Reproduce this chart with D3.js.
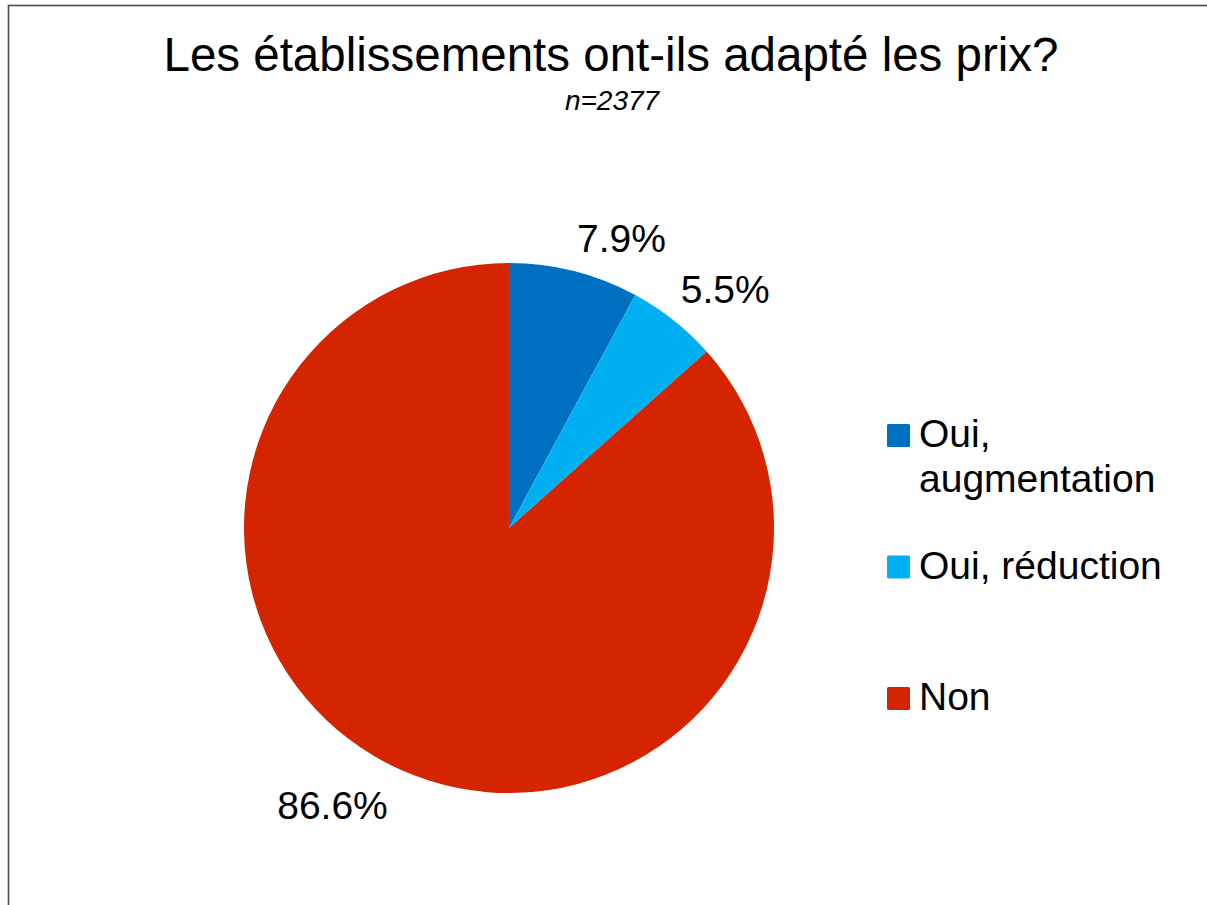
<!DOCTYPE html>
<html>
<head>
<meta charset="utf-8">
<script src="https://cdn.jsdelivr.net/npm/d3@7"></script>
<style>
  html, body { margin: 0; padding: 0; background: #fff; }
  svg { display: block; font-family: "Liberation Sans", Arial, sans-serif; }
</style>
</head>
<body>
<svg id="chart" width="1207" height="905"></svg>
<script>
// chart data
var categories = ['Oui, augmentation', 'Oui, réduction', 'Non'];
var legendLines = [['Oui,', 'augmentation'], ['Oui, réduction'], ['Non']];
var values = [7.9, 5.5, 86.6];
var colors = ['#0070C0', '#00B0F0', '#D52400'];
var title = 'Les établissements ont-ils adapté les prix?';
var subtitle = 'n=2377';

var width = 1207, height = 905;
var cx = 509, cy = 528, radius = 265;

var svg = d3.select('#chart');

// frame (only top and left edges fall inside the picture)
svg.append('rect')
  .attr('x', 8.5)
  .attr('y', 5.5)
  .attr('width', width + 20)
  .attr('height', height + 20)
  .attr('fill', 'none')
  .attr('stroke', '#4a4a4a')
  .attr('stroke-width', 1.6);

svg.append('text')
  .attr('x', 611)
  .attr('y', 71)
  .attr('text-anchor', 'middle')
  .attr('font-size', '47.5px')
  .attr('fill', '#000')
  .text(title);

svg.append('text')
  .attr('x', 612)
  .attr('y', 110)
  .attr('text-anchor', 'middle')
  .attr('font-size', '28px')
  .attr('font-style', 'italic')
  .attr('fill', '#000')
  .text(subtitle);

var color = d3.scaleOrdinal().domain(categories).range(colors);

var pie = d3.pie().sort(null).value(function(d) { return d.value; });
var data = categories.map(function(c, i) { return { name: c, value: values[i] }; });
var arcs = pie(data);

var arc = d3.arc().innerRadius(0).outerRadius(radius);

var g = svg.append('g').attr('transform', 'translate(' + cx + ',' + cy + ')');

g.selectAll('path.slice')
  .data(arcs)
  .join('path')
  .attr('class', 'slice')
  .attr('d', arc)
  .attr('fill', function(d) { return color(d.data.name); });

// labels: nearest corner of the label sits just outside the slice edge
var labelR = radius + 12;
g.selectAll('text.lbl')
  .data(arcs)
  .join('text')
  .attr('class', 'lbl')
  .attr('font-size', '39px')
  .attr('fill', '#000')
  .each(function(d) {
    var a = (d.startAngle + d.endAngle) / 2;
    var px = labelR * Math.sin(a);
    var py = -labelR * Math.cos(a);
    var t = d3.select(this);
    t.attr('text-anchor', Math.sin(a) >= 0 ? 'start' : 'end')
      .attr('x', Math.sin(a) >= 0 ? px : px - 8)
      .attr('y', Math.cos(a) >= 0 ? py - 8 : py + 38);
  })
  .text(function(d) { return d.data.value.toFixed(1) + '%'; });

// legend
var legendX = 887, legendTop = 424, legendStep = 131.5, sw = 23;
var legend = svg.append('g');
var items = legend.selectAll('g.item')
  .data(categories)
  .join('g')
  .attr('class', 'item')
  .attr('transform', function(d, i) { return 'translate(' + legendX + ',' + (legendTop + i * legendStep) + ')'; });

items.append('rect')
  .attr('width', sw)
  .attr('height', sw)
  .attr('rx', 1.5)
  .attr('fill', function(d) { return color(d); });

items.append('text')
  .attr('x', 32)
  .attr('y', sw)
  .attr('font-size', '39px')
  .attr('fill', '#000')
  .each(function(d, i) {
    var t = d3.select(this);
    legendLines[i].forEach(function(line, j) {
      t.append('tspan')
        .attr('x', 32)
        .attr('dy', j === 0 ? 0 : 45)
        .text(line);
    });
  });
</script>
</body>
</html>
